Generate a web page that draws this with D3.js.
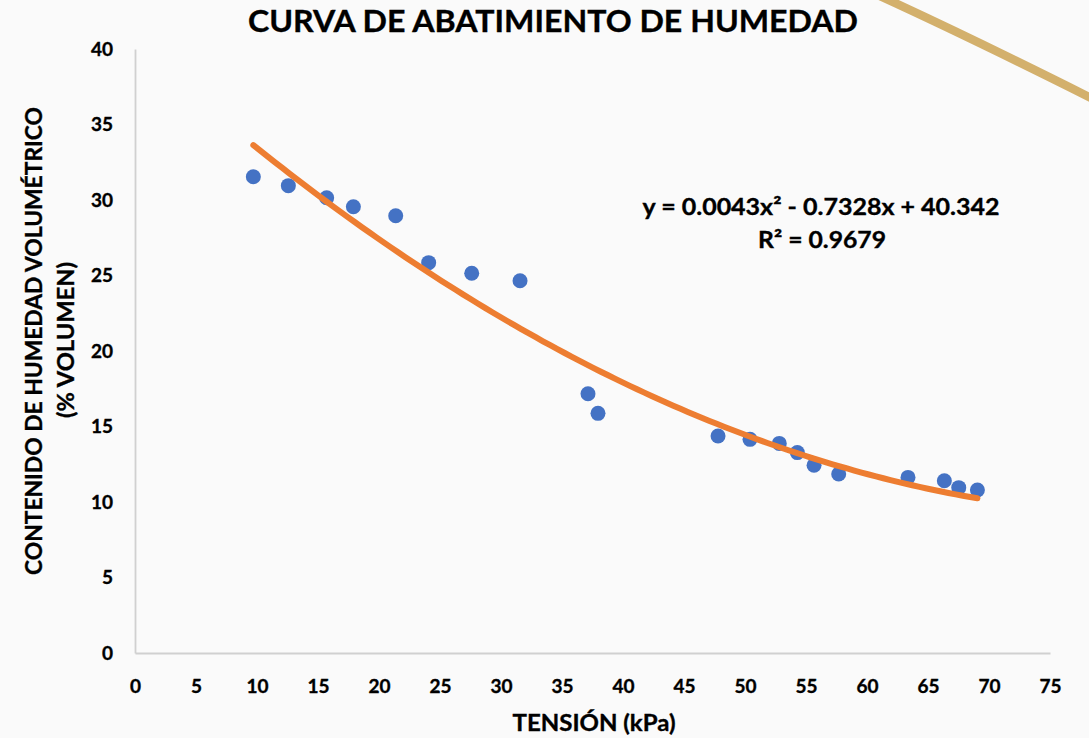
<!DOCTYPE html>
<html><head><meta charset="utf-8">
<script src="https://cdn.jsdelivr.net/npm/d3@7"></script>
<style>
html,body{margin:0;padding:0;background:#fafafa;}
svg{display:block;}
text{font-family:Lato,"Open Sans",sans-serif;font-weight:bold;fill:#000;}
</style></head>
<body>
<svg id="chart" width="1089" height="738"></svg>
<script>
// ---- data ----
const tension = [9.70, 12.57, 15.71, 17.90, 21.37, 24.07, 27.60, 31.56, 37.13, 37.95,
                 47.79, 50.41, 52.81, 54.29, 55.66, 57.68, 63.36, 66.34, 67.52, 69.05];
const humedad = [31.54, 30.95, 30.15, 29.55, 28.96, 25.85, 25.15, 24.65, 17.17, 15.87,
                 14.37, 14.15, 13.88, 13.27, 12.43, 11.85, 11.63, 11.41, 10.95, 10.79];
const trendCoef = [0.0043, -0.7328, 40.342];   // a x^2 + b x + c
const xTicks = [0,5,10,15,20,25,30,35,40,45,50,55,60,65,70,75];
const yTicks = [0,5,10,15,20,25,30,35,40];
const titleText = "CURVA DE ABATIMIENTO DE HUMEDAD";
const xTitle = "TENSIÓN (kPa)";
const yTitle1 = "CONTENIDO DE HUMEDAD VOLUMÉTRICO";
const yTitle2 = "(% VOLUMEN)";
const eqText = "y = 0.0043x² - 0.7328x + 40.342";
const r2Text = "R² = 0.9679";

const W = 1089, H = 738;
const svg = d3.select("#chart");
svg.append("rect").attr("width", W).attr("height", H).attr("fill", "#fafafa");

// decorative gold arc (top-right)
svg.append("path")
  .attr("d", `M ${W*0.808} -4 Q ${W*0.89} ${H*0.05} ${W+4} ${H*0.134}`)
  .attr("fill", "none").attr("stroke", "#d3b06c").attr("stroke-width", 8.5);

const x = d3.scaleLinear().domain([0, 75]).range([135, 1050]);
const y = d3.scaleLinear().domain([0, 40]).range([653, 49]);

function bold(sel) {
  sel.attr("font-family", "Lato").attr("font-weight", "bold").attr("fill", "#000")
     .attr("stroke", "#000").attr("stroke-width", 0.35);
}

// axes
const gx = svg.append("g").attr("transform", `translate(0,${y(0)})`)
  .call(d3.axisBottom(x).tickValues(xTicks).tickSize(0).tickPadding(27).tickFormat(d3.format("d")));
gx.select(".domain").attr("stroke", "#d0d0d0").attr("stroke-width", 1.8);
gx.selectAll("text").attr("font-size", 19).call(bold);

const gy = svg.append("g").attr("transform", `translate(${x(0)},0)`)
  .call(d3.axisLeft(y).tickValues(yTicks).tickSize(0).tickPadding(22).tickFormat(d3.format("d")));
gy.select(".domain").attr("stroke", "#d0d0d0").attr("stroke-width", 1.8);
gy.selectAll("text").attr("font-size", 19).call(bold);

// points
const pts = tension.map((t, i) => ({t, h: humedad[i]}));
svg.append("g").selectAll("circle").data(pts).join("circle")
  .attr("cx", d => x(d.t)).attr("cy", d => y(d.h)).attr("r", 7.5)
  .attr("fill", "#4472c4");

// polynomial trendline
const [a, b, c] = trendCoef;
const xMin = d3.min(tension), xMax = d3.max(tension);
const trend = d3.range(0, 101).map(i => {
  const t = xMin + (xMax - xMin) * i / 100;
  return [t, a*t*t + b*t + c];
});
svg.append("path").datum(trend)
  .attr("d", d3.line().x(d => x(d[0])).y(d => y(d[1])).curve(d3.curveMonotoneX))
  .attr("fill", "none").attr("stroke", "#ed7d31").attr("stroke-width", 6)
  .attr("stroke-linecap", "round");

// texts
function fitText(sel, len) {
  sel.attr("textLength", len).attr("lengthAdjust", "spacingAndGlyphs").call(bold);
}
svg.append("text").attr("x", 553).attr("y", 32).attr("text-anchor", "middle")
  .attr("font-size", 30).text(titleText).call(fitText, 610);

svg.append("text").attr("x", 594).attr("y", 731).attr("text-anchor", "middle")
  .attr("font-size", 23).text(xTitle).call(fitText, 163);

svg.append("text").attr("transform", "translate(42,341) rotate(-90)").attr("text-anchor", "middle")
  .attr("font-size", 23).text(yTitle1).call(fitText, 468);
svg.append("text").attr("transform", "translate(74,340) rotate(-90)").attr("text-anchor", "middle")
  .attr("font-size", 23).text(yTitle2).call(fitText, 156);

svg.append("text").attr("x", 821).attr("y", 215).attr("text-anchor", "middle")
  .attr("font-size", 23).text(eqText).call(fitText, 357);
svg.append("text").attr("x", 822).attr("y", 248).attr("text-anchor", "middle")
  .attr("font-size", 23).text(r2Text).call(fitText, 128);
</script>
</body></html>
